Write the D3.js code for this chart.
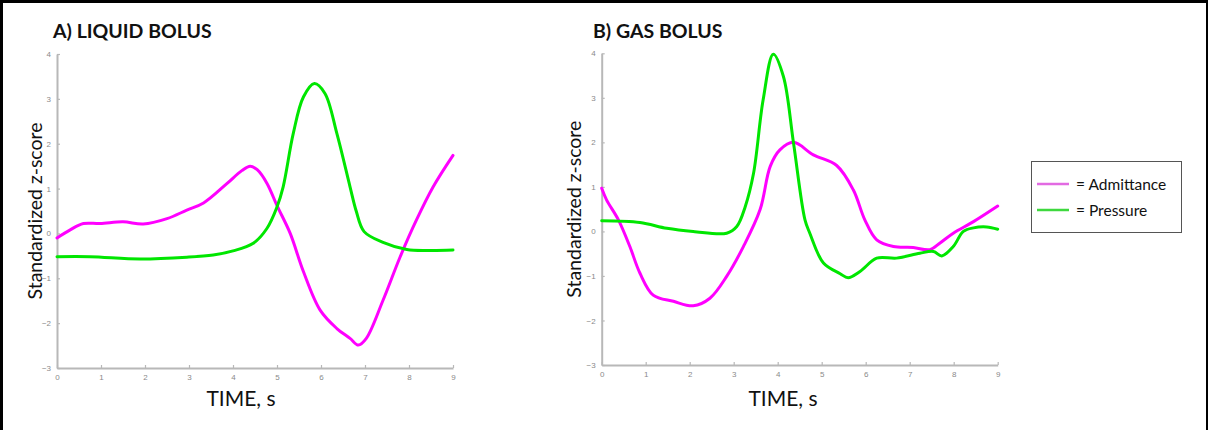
<!DOCTYPE html>
<html><head><meta charset="utf-8">
<script src="https://cdn.jsdelivr.net/npm/d3@7"></script>
<style>
html,body{margin:0;padding:0;background:#fff;}
svg{display:block;}
</style></head>
<body>
<svg id="chart" width="1208" height="430"></svg>
<script>
// ---- Data ----
const xTicks = [0,1,2,3,4,5,6,7,8,9];
const yTicks = [-3,-2,-1,0,1,2,3,4];

const liquidAdmT = [0,0.3,0.6,0.98,1.5,1.96,2.5,2.95,3.33,3.86,4.2,4.39,4.55,4.77,5.0,5.3,5.6,5.98,6.36,6.66,6.85,7.03,7.41,7.8,8.17,8.55,9];
const liquidAdmV = [-0.1,0.08,0.22,0.22,0.26,0.21,0.33,0.52,0.68,1.11,1.4,1.5,1.42,1.12,0.62,0,-0.85,-1.71,-2.12,-2.34,-2.49,-2.34,-1.49,-0.52,0.3,1.04,1.74];

const liquidPrsT = [0,0.75,1.89,2.95,3.55,4.0,4.46,4.77,5.0,5.14,5.37,5.6,5.85,6.09,6.36,6.66,6.8,6.98,7.41,7.95,8.48,9];
const liquidPrsV = [-0.52,-0.52,-0.57,-0.53,-0.48,-0.39,-0.22,0.11,0.59,1.04,2.23,3.04,3.34,3.12,2.23,1.04,0.5,0.04,-0.2,-0.36,-0.38,-0.37];

const gasAdmT = [0,0.11,0.38,0.64,0.87,1.17,1.63,2.08,2.46,2.84,3.22,3.6,3.83,4.05,4.36,4.81,5.34,5.72,5.98,6.25,6.63,7.08,7.46,7.69,7.99,8.45,9];
const gasAdmV = [0.97,0.71,0.26,-0.34,-0.94,-1.43,-1.57,-1.67,-1.5,-1.01,-0.34,0.49,1.46,1.83,2.0,1.72,1.48,0.93,0.26,-0.19,-0.34,-0.36,-0.41,-0.26,-0.04,0.22,0.57];

const gasPrsT = [0,0.87,1.48,2.08,2.84,3.07,3.26,3.45,3.67,3.9,4.13,4.36,4.62,4.73,5.04,5.42,5.6,5.87,6.25,6.7,7.23,7.54,7.73,7.99,8.22,8.45,8.75,9];
const gasPrsV = [0.24,0.2,0.07,0.0,-0.04,0.11,0.55,1.3,2.96,3.98,3.48,1.98,0.26,-0.04,-0.71,-0.95,-1.04,-0.9,-0.6,-0.6,-0.49,-0.45,-0.55,-0.34,0.0,0.08,0.1,0.05];

const panelTitles = ["A) LIQUID BOLUS", "B) GAS BOLUS"];
const seriesNames = ["= Admittance", "= Pressure"];
const seriesColors = ["#ff00ff", "#00e600"];
const legendColors = ["#e26ae2", "#3ed83e"];
const yLabel = "Standardized z-score";
const xLabel = "TIME, s";

// ---- Drawing ----
const svg = d3.select("#chart");
svg.append("rect").attr("width",1208).attr("height",430).attr("fill","#fff");
// frame
svg.append("rect").attr("x",0).attr("y",0).attr("width",1208).attr("height",3).attr("fill","#000");
svg.append("rect").attr("x",0).attr("y",0).attr("width",3).attr("height",430).attr("fill","#000");
svg.append("rect").attr("x",1206).attr("y",0).attr("width",2).attr("height",430).attr("fill","#000");

const panels = [
  {title: panelTitles[0], x0:57, x1:453, yTop:54, yBot:368, titleX:53, ylabX:36, xlabX:241,
   series:[{t:liquidAdmT,v:liquidAdmV},{t:liquidPrsT,v:liquidPrsV}]},
  {title: panelTitles[1], x0:601.7, x1:997.7, yTop:53.3, yBot:365, titleX:593, ylabX:575, xlabX:783,
   series:[{t:gasAdmT,v:gasAdmV},{t:gasPrsT,v:gasPrsV}]}
];

const axisColor = "#b8b8b8";
const tickTextColor = "#8a8a8a";

panels.forEach(p => {
  const x = d3.scaleLinear().domain([0,9]).range([p.x0,p.x1]);
  const y = d3.scaleLinear().domain([-3,4]).range([p.yBot,p.yTop]);
  const g = svg.append("g");

  const xa = g.append("g").attr("transform",`translate(0,${p.yBot})`)
    .call(d3.axisBottom(x).tickValues(xTicks).tickSize(-3).tickSizeOuter(0).tickPadding(6).tickFormat(d3.format("d")));
  const ya = g.append("g").attr("transform",`translate(${p.x0},0)`)
    .call(d3.axisLeft(y).tickValues(yTicks).tickSize(-3).tickSizeOuter(0).tickPadding(6).tickFormat(d3.format("d")));
  [xa,ya].forEach(a=>{
    a.select(".domain").attr("stroke",axisColor).attr("stroke-width",2);
    a.selectAll(".tick line").attr("stroke",axisColor).attr("stroke-width",1.2);
    a.selectAll(".tick text").attr("fill",tickTextColor).attr("font-size",8).attr("font-family","Liberation Sans, Arial, sans-serif");
  });

  const line = d3.line().x(d=>x(d[0])).y(d=>y(d[1])).curve(d3.curveCatmullRom.alpha(0.5));
  p.series.forEach((s,i)=>{
    const pts = s.t.map((t,k)=>[t,s.v[k]]);
    g.append("path").attr("d",line(pts)).attr("fill","none")
      .attr("stroke",seriesColors[i]).attr("stroke-width",3).attr("stroke-linejoin","round").attr("stroke-linecap","round");
  });

  g.append("text").attr("x",p.titleX).attr("y",38).text(p.title)
    .attr("font-family","Lato, sans-serif").attr("font-weight","bold").attr("font-size",19.5).attr("fill","#111");
  g.append("text").attr("transform",`translate(${p.ylabX+6},${(p.yTop+p.yBot)/2}) rotate(-90)`)
    .attr("text-anchor","middle").text(yLabel)
    .attr("font-family","Lato, sans-serif").attr("font-size",19.5).attr("fill","#111");
  g.append("text").attr("x",p.xlabX).attr("y",406).attr("text-anchor","middle").text(xLabel)
    .attr("font-family","Lato, sans-serif").attr("font-size",21).attr("fill","#111");
});

// legend
const lg = svg.append("g");
lg.append("rect").attr("x",1031.5).attr("y",161.5).attr("width",150).attr("height",71)
  .attr("fill","#fff").attr("stroke","#555").attr("stroke-width",1);
seriesNames.forEach((n,i)=>{
  const yy = 184 + i*26;
  lg.append("line").attr("x1",1037).attr("x2",1069).attr("y1",yy).attr("y2",yy)
    .attr("stroke",legendColors[i]).attr("stroke-width",2.5);
  lg.append("text").attr("x",1076).attr("y",yy+5.5).text(n)
    .attr("font-family","Lato, sans-serif").attr("font-size",15.5).attr("fill","#111");
});
</script>
</body></html>
